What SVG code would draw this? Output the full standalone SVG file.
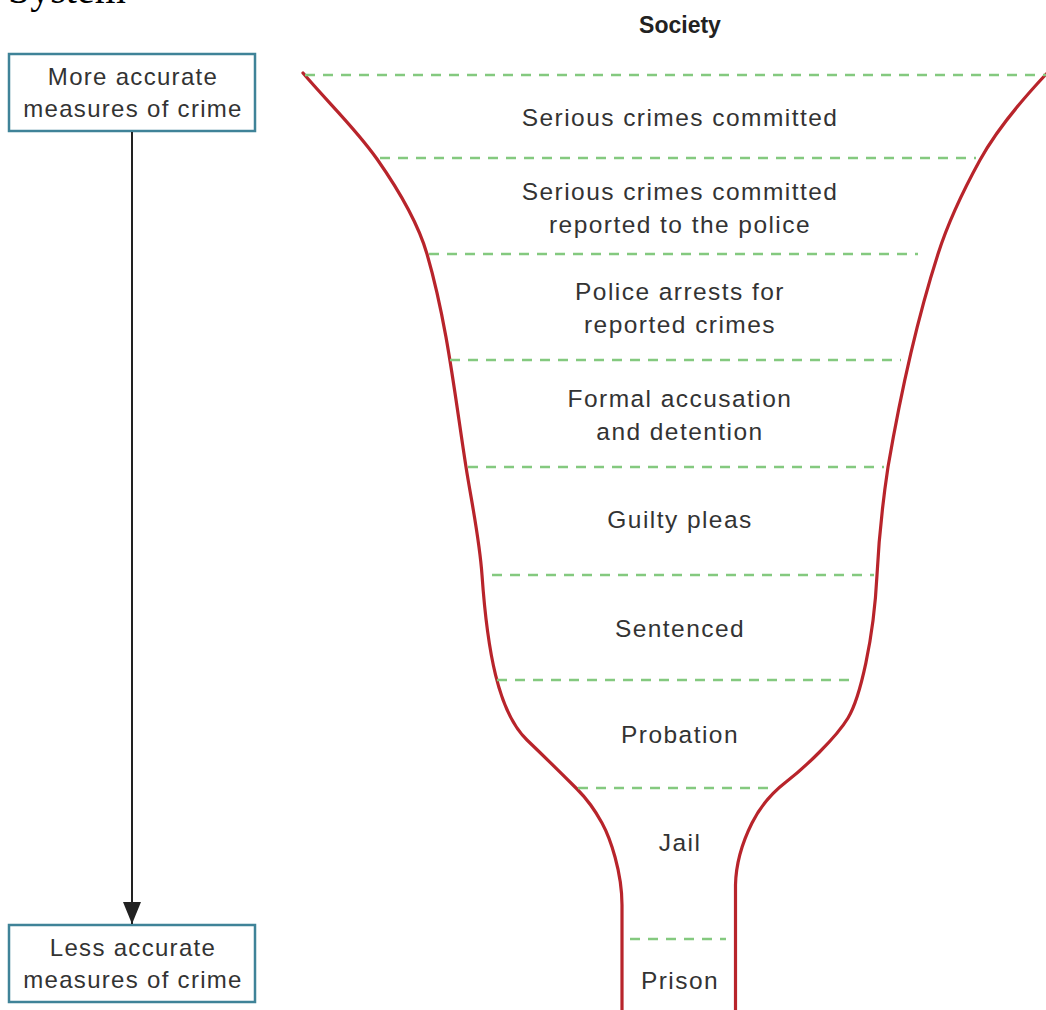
<svg xmlns="http://www.w3.org/2000/svg" width="1046" height="1010" viewBox="0 0 1046 1010">
<style>
.lbl{font-family:"Liberation Sans",Arial,sans-serif;font-size:24px;fill:#333;text-anchor:middle;letter-spacing:1.3px}
.st{font-size:24.5px;letter-spacing:1.45px}
.box{fill:#fff;stroke:#3f8398;stroke-width:2.5}
.dash{stroke:#84c97f;stroke-width:2.5;stroke-dasharray:10 8;fill:none}
.funnel{fill:none;stroke:#b8242b;stroke-width:3.2;stroke-linecap:round}
.title{font-family:"Liberation Sans",Arial,sans-serif;font-size:23px;font-weight:bold;fill:#222;text-anchor:middle}
</style>
<defs>
<marker id="ah" viewBox="0 0 22 18" refX="22" refY="9" markerWidth="22" markerHeight="18" markerUnits="userSpaceOnUse" orient="auto">
<path d="M0,0 L22,9 L0,18 z" fill="#222"/>
</marker>
</defs>
<rect width="1046" height="1010" fill="#fff"/>
<text x="8" y="3" font-family="Liberation Serif,Times New Roman,serif" font-size="40" fill="#000">System</text>

<g id="more-accurate">
<rect class="box" x="9" y="54" width="246" height="77"/>
<text class="lbl" x="133" y="85">More accurate</text>
<text class="lbl" x="133" y="117">measures of crime</text>
</g>
<g id="less-accurate">
<rect class="box" x="9" y="925" width="246" height="77"/>
<text class="lbl" x="133" y="956">Less accurate</text>
<text class="lbl" x="133" y="988">measures of crime</text>
</g>

<g id="connectors">
<line x1="132" y1="132" x2="132" y2="924" stroke="#222" stroke-width="2" marker-end="url(#ah)"/>
</g>

<g id="funnel">
<text class="title" x="680" y="33">Society</text>
<path class="funnel" d="M303,73 C328.5,103 356,129 377,159 C398,189 418.3,224 427,254 C447.3,324 455,397 466,467 C471.7,503 479.5,539 482,575 C487.25,650 498,712 527,740 C544.7,757 561,773 577,789 C588,800 596,812 602,823 C610.2,838 622,872 622,905 L622,1012"/>
<path class="funnel" d="M1050,70 C1021.5,100 996.5,130 980,160 C963.5,190 947.6,224 938,254 C915.6,324 900,397 888,467 C882.6,503 878.8,539 877,575 C873.75,640 860,698 848,718 C836,738 804.2,768 786,782 C770.4,794 759,809 752,823 C743,841 736,860 735.5,885 L735.5,1012"/>
<line class="dash" x1="305" y1="75" x2="1046" y2="75"/>
<line class="dash" x1="380" y1="158" x2="976" y2="158"/>
<line class="dash" x1="429" y1="254" x2="918" y2="254"/>
<line class="dash" x1="450" y1="360" x2="901" y2="360"/>
<line class="dash" x1="468" y1="467" x2="884" y2="467"/>
<line class="dash" x1="492" y1="575" x2="874" y2="575"/>
<line class="dash" x1="497" y1="680" x2="857" y2="680"/>
<line class="dash" x1="578" y1="788" x2="771" y2="788"/>
<line class="dash" x1="630" y1="939" x2="726" y2="939"/>
</g>

<g id="stage-committed"><text class="lbl st" x="680" y="126">Serious crimes committed</text></g>
<g id="stage-reported"><text class="lbl st" x="680" y="200">Serious crimes committed</text><text class="lbl st" x="680" y="233">reported to the police</text></g>
<g id="stage-arrests"><text class="lbl st" x="680" y="300">Police arrests for</text><text class="lbl st" x="680" y="333">reported crimes</text></g>
<g id="stage-accusation"><text class="lbl st" x="680" y="407">Formal accusation</text><text class="lbl st" x="680" y="440">and detention</text></g>
<g id="stage-guilty"><text class="lbl st" x="680" y="528">Guilty pleas</text></g>
<g id="stage-sentenced"><text class="lbl st" x="680" y="637">Sentenced</text></g>
<g id="stage-probation"><text class="lbl st" x="680" y="743">Probation</text></g>
<g id="stage-jail"><text class="lbl st" x="680" y="851">Jail</text></g>
<g id="stage-prison"><text class="lbl st" x="680" y="989">Prison</text></g>
</svg>
